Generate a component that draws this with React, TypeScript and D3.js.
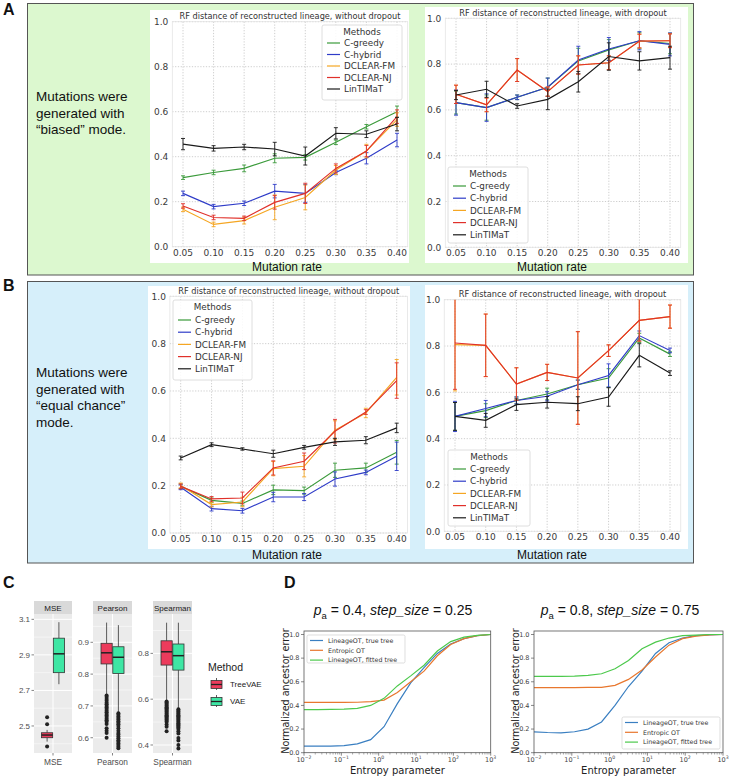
import React from "react"
import * as d3 from "d3"

// ---------- panels A / B : RF distance ----------
const rates = [0.05, 0.1, 0.15, 0.2, 0.25, 0.3, 0.35, 0.4]
const rateLabels = ["0.05", "0.10", "0.15", "0.20", "0.25", "0.30", "0.35", "0.40"]
const rfTicks = [0, 0.2, 0.4, 0.6, 0.8, 1.0]
const methods = ["C-greedy", "C-hybrid", "DCLEAR-FM", "DCLEAR-NJ", "LinTIMaT"]
const methodColors = ["#3a9a3a", "#2f3cc8", "#f5a623", "#e0302a", "#1a1a1a"]

// order of rows follows `methods`
const biasedNoDropMean = [
  [0.307, 0.33, 0.348, 0.393, 0.397, 0.464, 0.533, 0.6],
  [0.237, 0.178, 0.193, 0.247, 0.237, 0.33, 0.393, 0.474],
  [0.166, 0.099, 0.116, 0.175, 0.219, 0.341, 0.425, 0.565],
  [0.181, 0.13, 0.126, 0.197, 0.237, 0.348, 0.425, 0.578],
  [0.456, 0.437, 0.443, 0.434, 0.403, 0.504, 0.5, 0.545],
]
const biasedNoDropErr = [
  [0.008, 0.01, 0.015, 0.02, 0.012, 0.01, 0.01, 0.025],
  [0.01, 0.01, 0.01, 0.03, 0.04, 0.01, 0.025, 0.03],
  [0.01, 0.01, 0.015, 0.055, 0.055, 0.02, 0.03, 0.03],
  [0.01, 0.01, 0.01, 0.03, 0.045, 0.02, 0.025, 0.03],
  [0.025, 0.012, 0.012, 0.03, 0.04, 0.025, 0.015, 0.03],
]
const biasedDropMean = [
  [0.632, 0.61, 0.655, 0.699, 0.814, 0.862, 0.902, 0.89],
  [0.632, 0.61, 0.655, 0.699, 0.818, 0.866, 0.902, 0.886],
  [0.668, 0.622, 0.774, 0.68, 0.796, 0.806, 0.9, 0.902],
  [0.668, 0.622, 0.774, 0.68, 0.796, 0.806, 0.901, 0.902],
  [0.665, 0.69, 0.617, 0.646, 0.723, 0.833, 0.814, 0.828],
]
const biasedDropErr = [
  [0.05, 0.055, 0.01, 0.04, 0.055, 0.045, 0.035, 0.045],
  [0.055, 0.06, 0.01, 0.04, 0.06, 0.05, 0.04, 0.05],
  [0.04, 0.03, 0.05, 0.02, 0.04, 0.03, 0.03, 0.03],
  [0.04, 0.03, 0.05, 0.02, 0.04, 0.03, 0.03, 0.03],
  [0.02, 0.035, 0.01, 0.045, 0.045, 0.06, 0.04, 0.05],
]
const equalNoDropMean = [
  [0.197, 0.138, 0.125, 0.182, 0.179, 0.265, 0.275, 0.341],
  [0.193, 0.103, 0.094, 0.152, 0.152, 0.228, 0.256, 0.324],
  [0.201, 0.12, 0.131, 0.272, 0.282, 0.434, 0.507, 0.658],
  [0.197, 0.144, 0.148, 0.275, 0.303, 0.43, 0.511, 0.644],
  [0.317, 0.373, 0.355, 0.335, 0.362, 0.385, 0.392, 0.444],
]
const equalNoDropErr = [
  [0.01, 0.01, 0.01, 0.02, 0.015, 0.03, 0.02, 0.05],
  [0.01, 0.01, 0.01, 0.02, 0.015, 0.03, 0.01, 0.06],
  [0.01, 0.01, 0.02, 0.03, 0.045, 0.04, 0.02, 0.075],
  [0.01, 0.01, 0.025, 0.03, 0.035, 0.05, 0.01, 0.075],
  [0.008, 0.008, 0.005, 0.015, 0.008, 0.015, 0.015, 0.02],
]
const equalDropMean = [
  [0.496, 0.521, 0.565, 0.593, 0.633, 0.662, 0.835, 0.765],
  [0.496, 0.53, 0.565, 0.583, 0.633, 0.673, 0.845, 0.781],
  [0.806, 0.803, 0.636, 0.686, 0.662, 0.78, 0.911, 0.927],
  [0.813, 0.803, 0.636, 0.686, 0.662, 0.78, 0.911, 0.927],
  [0.496, 0.479, 0.547, 0.557, 0.551, 0.58, 0.76, 0.683],
]
const equalDropErr = [
  [0.06, 0.03, 0.015, 0.025, 0.02, 0.04, 0.02, 0.01],
  [0.065, 0.035, 0.015, 0.02, 0.02, 0.05, 0.02, 0.01],
  [0.2, 0.135, 0.07, 0.035, 0.2, 0.025, 0.09, 0.05],
  [0.2, 0.135, 0.07, 0.035, 0.2, 0.025, 0.09, 0.05],
  [0.06, 0.03, 0.025, 0.025, 0.03, 0.04, 0.05, 0.01],
]

// ---------- panel C : boxplots ----------
const cMetrics = ["MSE", "Pearson", "Spearman"]
const cMethods = ["TreeVAE", "VAE"]
const cColors = ["#ec3b5c", "#3ee6a4"]
// [lower whisker, q1, median, q3, upper whisker]
const cStatsTreeVAE = [
  [2.412, 2.434, 2.449, 2.462, 2.478],
  [0.737, 0.832, 0.867, 0.897, 0.962],
  [0.596, 0.749, 0.807, 0.855, 0.934],
]
const cStatsVAE = [
  [2.735, 2.8, 2.906, 2.994, 3.084],
  [0.68, 0.802, 0.853, 0.886, 0.954],
  [0.56, 0.727, 0.79, 0.841, 0.934],
]
const cOutTreeVAE = [
  [2.549, 2.51, 2.384],
  [0.733, 0.728, 0.722, 0.716, 0.71, 0.705, 0.7, 0.695, 0.69, 0.685, 0.68, 0.675, 0.67, 0.665, 0.66, 0.655, 0.65, 0.643, 0.63, 0.622, 0.615, 0.6],
  [0.59, 0.585, 0.58, 0.575, 0.57, 0.565, 0.56, 0.555, 0.55, 0.545, 0.54, 0.535, 0.53, 0.525, 0.52, 0.515, 0.51, 0.505, 0.5, 0.49, 0.48, 0.46],
]
const cOutVAE = [
  [],
  [0.677, 0.672, 0.667, 0.662, 0.657, 0.652, 0.647, 0.642, 0.637, 0.63, 0.622, 0.615, 0.61, 0.604, 0.598, 0.592, 0.587, 0.582, 0.577, 0.572, 0.567],
  [0.556, 0.55, 0.545, 0.54, 0.535, 0.53, 0.525, 0.52, 0.515, 0.51, 0.505, 0.5, 0.495, 0.49, 0.485, 0.48, 0.475, 0.47, 0.46, 0.45, 0.43, 0.42, 0.4, 0.385],
]
const cTicks = [
  [2.5, 2.7, 2.9, 3.1],
  [0.6, 0.7, 0.8, 0.9],
  [0.4, 0.6, 0.8],
]

// ---------- panel D : ancestor error ----------
const entropyParams = [0.01, 0.0228, 0.0518, 0.118, 0.268, 0.611, 1.39, 3.16, 7.2, 16.4, 37.3, 84.8, 193, 439, 1000]
const dLabels = ["LineageOT, true tree", "Entropic OT", "LineageOT, fitted tree"]
const dColors = ["#3a7fc1", "#e8772e", "#4cc94c"]
const dLeftTrue = [0.055, 0.055, 0.056, 0.06, 0.075, 0.11, 0.22, 0.415, 0.59, 0.72, 0.84, 0.92, 0.965, 0.99, 1.0]
const dLeftEntropic = [0.425, 0.425, 0.425, 0.425, 0.427, 0.432, 0.445, 0.51, 0.6, 0.69, 0.82, 0.915, 0.965, 0.99, 1.0]
const dLeftFitted = [0.365, 0.365, 0.366, 0.368, 0.375, 0.4, 0.46, 0.565, 0.65, 0.74, 0.86, 0.94, 0.978, 0.993, 1.0]
const dRightTrue = [0.177, 0.171, 0.168, 0.177, 0.2, 0.26, 0.4, 0.56, 0.69, 0.84, 0.93, 0.97, 0.99, 0.997, 1.0]
const dRightEntropic = [0.55, 0.55, 0.55, 0.55, 0.552, 0.552, 0.57, 0.62, 0.7, 0.81, 0.91, 0.965, 0.987, 0.996, 1.0]
const dRightFitted = [0.645, 0.645, 0.646, 0.648, 0.655, 0.668, 0.71, 0.78, 0.88, 0.935, 0.97, 0.99, 0.995, 1.0, 1.0]
const dYTicks = [0, 0.2, 0.4, 0.6, 0.8, 1.0]
const dXTicks = [-2, -1, 0, 1, 2, 3]

function RFChart({ id, bg, px, py, title, means, errs, legend }: any) {
  const x = d3.scaleLinear().domain([0.05, 0.4]).range(px)
  const y = d3.scaleLinear().domain([0, 1]).range(py)
  const fx0 = x(0.0325), fx1 = x(0.4175)
  const fy0 = y(1), fy1 = y(0)
  const line = d3.line<number>().x((_, i) => x(rates[i])).y((d) => y(d))

  return (
    <g fontFamily="DejaVu Sans">
      <rect x={bg[0]} y={bg[1]} width={bg[2] - bg[0]} height={bg[3] - bg[1]} fill="#fff" />
      {rfTicks.map((t) => (
        <line key={"gy" + t} x1={fx0} x2={fx1} y1={y(t)} y2={y(t)} stroke="#c0c0c0" strokeWidth={0.8} strokeDasharray="1.2,1.6" />
      ))}
      {rates.map((r) => (
        <line key={"gx" + r} x1={x(r)} x2={x(r)} y1={fy0} y2={fy1} stroke="#c0c0c0" strokeWidth={0.8} strokeDasharray="1.2,1.6" />
      ))}
      <rect x={fx0} y={fy0} width={fx1 - fx0} height={fy1 - fy0} fill="none" stroke="#e4e4e4" strokeWidth={0.8} />
      {rfTicks.map((t) => (
        <text key={"ty" + t} x={fx0 - 4} y={y(t) + 3.3} textAnchor="end" fontSize={9} fill="#3a3a3a">
          {t.toFixed(1)}
        </text>
      ))}
      {rateLabels.map((s, i) => (
        <text key={"tx" + s} x={x(rates[i])} y={fy1 + 8.8} textAnchor="middle" fontSize={9} fill="#3a3a3a">
          {s}
        </text>
      ))}
      <text x={(fx0 + fx1) / 2} y={fy0 - 2.6} textAnchor="middle" fontSize={8.2} fill="#333">
        {title}
      </text>
      <clipPath id={id}>
        <rect x={fx0} y={fy0} width={fx1 - fx0} height={fy1 - fy0} />
      </clipPath>
      <g clipPath={`url(#${id})`}>
        {means.map((m: number[], k: number) => (
          <g key={k} stroke={methodColors[k]} strokeWidth={0.9}>
            <path d={line(m) as string} fill="none" strokeWidth={1.15} />
            {m.map((v, i) => {
              const e = errs[k][i]
              const cx = x(rates[i])
              return (
                <g key={i}>
                  <line x1={cx} x2={cx} y1={y(v - e)} y2={y(v + e)} />
                  <line x1={cx - 2} x2={cx + 2} y1={y(v - e)} y2={y(v - e)} />
                  <line x1={cx - 2} x2={cx + 2} y1={y(v + e)} y2={y(v + e)} />
                </g>
              )
            })}
          </g>
        ))}
      </g>
      <g>
        <rect x={legend.x} y={legend.y} width={legend.w} height={legend.h} rx={2} fill="#fff" fillOpacity={0.85} stroke="#d6d6d6" strokeWidth={0.8} />
        <text x={legend.x + legend.w / 2} y={legend.y + 10} textAnchor="middle" fontSize={8.8} fill="#333">
          Methods
        </text>
        {methods.map((m, k) => {
          const cy = legend.y + legend.r0 + k * legend.step
          return (
            <g key={m}>
              <line x1={legend.x + 5} x2={legend.x + 18} y1={cy} y2={cy} stroke={methodColors[k]} strokeWidth={1.2} />
              <text x={legend.x + 22} y={cy + 3.2} fontSize={8.8} fill="#333">
                {m}
              </text>
            </g>
          )
        })}
      </g>
    </g>
  )
}

function BoxPanelC() {
  const panelX = [[34, 72], [93, 132], [153, 192]]
  const yDomains = [[2.348, 3.13], [0.552, 0.989], [0.365, 0.972]]
  const top = 614, bottom = 753
  return (
    <g fontFamily="Liberation Sans, Arial, sans-serif">
      {cMetrics.map((metric, p) => {
        const [x0, x1] = panelX[p]
        const cx = (x0 + x1) / 2
        const y = d3.scaleLinear().domain(yDomains[p]).range([bottom, top])
        const band = d3.scaleBand().domain(cMethods).range([cx - 11.5, cx + 11.5]).paddingInner(0.05)
        const ticks = cTicks[p]
        const step = ticks[1] - ticks[0]
        const minor = [ticks[0] - step / 2, ...ticks.map((t) => t + step / 2)].filter(
          (v) => v > yDomains[p][0] && v < yDomains[p][1],
        )
        const stats = [cStatsTreeVAE[p], cStatsVAE[p]]
        const outs = [cOutTreeVAE[p], cOutVAE[p]]
        return (
          <g key={metric}>
            <rect x={x0} y={601} width={x1 - x0} height={13} fill="#d9d9d9" />
            <text x={cx} y={610.8} textAnchor="middle" fontSize={8} fill="#1a1a1a">
              {metric}
            </text>
            <rect x={x0} y={top} width={x1 - x0} height={bottom - top} fill="#ebebeb" />
            {minor.map((v) => (
              <line key={"m" + v} x1={x0} x2={x1} y1={y(v)} y2={y(v)} stroke="#fff" strokeWidth={0.5} />
            ))}
            {ticks.map((v) => (
              <line key={"g" + v} x1={x0} x2={x1} y1={y(v)} y2={y(v)} stroke="#fff" strokeWidth={1} />
            ))}
            <line x1={cx} x2={cx} y1={top} y2={bottom} stroke="#fff" strokeWidth={1} />
            {ticks.map((v) => (
              <g key={"t" + v}>
                <line x1={x0 - 2.5} x2={x0} y1={y(v)} y2={y(v)} stroke="#333" strokeWidth={0.6} />
                <text x={x0 - 4} y={y(v) + 2.8} textAnchor="end" fontSize={8} fill="#4d4d4d">
                  {v.toFixed(1)}
                </text>
              </g>
            ))}
            <line x1={cx} x2={cx} y1={bottom} y2={bottom + 2.5} stroke="#333" strokeWidth={0.6} />
            <text x={cx} y={765} textAnchor="middle" fontSize={8.3} fill="#4d4d4d">
              {metric}
            </text>
            {cMethods.map((m, k) => {
              const s = stats[k]
              const bx = band(m) as number
              const bw = band.bandwidth()
              const mx = bx + bw / 2
              return (
                <g key={m} stroke="#333" strokeWidth={0.8}>
                  <line x1={mx} x2={mx} y1={y(s[0])} y2={y(s[1])} />
                  <line x1={mx} x2={mx} y1={y(s[3])} y2={y(s[4])} />
                  <rect x={bx} y={y(s[3])} width={bw} height={y(s[1]) - y(s[3])} fill={cColors[k]} />
                  <line x1={bx} x2={bx + bw} y1={y(s[2])} y2={y(s[2])} strokeWidth={1.5} stroke="#222" />
                  {outs[k].map((o, j) => (
                    <circle key={j} cx={mx} cy={y(o)} r={2} fill="#222" stroke="none" />
                  ))}
                </g>
              )
            })}
          </g>
        )
      })}
      <text x={208} y={671} fontSize={10.5} fill="#222">
        Method
      </text>
      {cMethods.map((m, k) => {
        const ky = 679 + k * 17
        return (
          <g key={m}>
            <line x1={216.5} x2={216.5} y1={ky - 1} y2={ky + 11} stroke="#333" strokeWidth={0.8} />
            <rect x={211} y={ky + 1.5} width={11} height={8} fill={cColors[k]} stroke="#333" strokeWidth={0.8} />
            <line x1={211} x2={222} y1={ky + 5.5} y2={ky + 5.5} stroke="#222" strokeWidth={1.3} />
            <text x={230} y={ky + 8} fontSize={8} fill="#222">
              {m}
            </text>
          </g>
        )
      })}
    </g>
  )
}

function EntropyChart({ id, frame, py, pa, step, titleX, series, legend, ylabX }: any) {
  const x = d3.scaleLog().domain([0.01, 1000]).range([frame.x0, frame.x1])
  const y = d3.scaleLinear().domain([0, 1]).range(py)
  const line = d3.line<number>().x((_, i) => x(entropyParams[i])).y((d) => y(d))
  const minor: number[] = []
  for (let e = -2; e < 3; e++) for (let k = 2; k < 10; k++) minor.push(k * Math.pow(10, e))
  const axisColor = "#555"
  return (
    <g fontFamily="DejaVu Sans">
      <text x={titleX} y={615} textAnchor="middle" fontSize={14} fontFamily="Liberation Sans, Arial, sans-serif" fill="#111">
        <tspan fontStyle="italic">p</tspan>
        <tspan fontSize={9.5} dy={4}>a</tspan>
        <tspan dy={-4}>{` = ${pa}, `}</tspan>
        <tspan fontStyle="italic">step_size</tspan>
        <tspan>{` = ${step}`}</tspan>
      </text>
      <clipPath id={id}>
        <rect x={frame.x0} y={frame.y0} width={frame.x1 - frame.x0} height={frame.y1 - frame.y0} />
      </clipPath>
      <g clipPath={`url(#${id})`}>
        {series.map((s: number[], k: number) => (
          <path key={k} d={line(s) as string} fill="none" stroke={dColors[k]} strokeWidth={1.2} />
        ))}
      </g>
      <rect x={frame.x0} y={frame.y0} width={frame.x1 - frame.x0} height={frame.y1 - frame.y0} fill="none" stroke={axisColor} strokeWidth={0.8} />
      {dYTicks.map((t) => (
        <g key={"y" + t}>
          <line x1={frame.x0 - 3} x2={frame.x0} y1={y(t)} y2={y(t)} stroke={axisColor} strokeWidth={0.7} />
          <text x={frame.x0 - 4.5} y={y(t) + 2.3} textAnchor="end" fontSize={6.5} fill="#444">
            {t.toFixed(1)}
          </text>
        </g>
      ))}
      {minor.map((v) => (
        <line key={"mx" + v} x1={x(v)} x2={x(v)} y1={frame.y1} y2={frame.y1 + 1.8} stroke={axisColor} strokeWidth={0.5} />
      ))}
      {dXTicks.map((e) => (
        <g key={"x" + e}>
          <line x1={x(Math.pow(10, e))} x2={x(Math.pow(10, e))} y1={frame.y1} y2={frame.y1 + 3} stroke={axisColor} strokeWidth={0.7} />
          <text x={x(Math.pow(10, e))} y={frame.y1 + 9.5} textAnchor="middle" fontSize={6.5} fill="#444">
            10
            <tspan fontSize={4.6} dy={-3}>
              {e < 0 ? "\u2212" + -e : String(e)}
            </tspan>
          </text>
        </g>
      ))}
      <text x={(frame.x0 + frame.x1) / 2} y={774} textAnchor="middle" fontSize={10} fill="#222">
        Entropy parameter
      </text>
      <text transform={`translate(${ylabX},691) rotate(-90)`} textAnchor="middle" fontSize={9.6} fill="#222">
        Normalized ancestor error
      </text>
      <g>
        <rect x={legend.x} y={legend.y} width={legend.w} height={legend.h} rx={1.5} fill="#fff" fillOpacity={0.85} stroke="#d0d0d0" strokeWidth={0.7} />
        {dLabels.map((l, k) => {
          const cy = legend.y + 5.5 + k * 9.8
          return (
            <g key={l}>
              <line x1={legend.x + 3} x2={legend.x + 16} y1={cy} y2={cy} stroke={dColors[k]} strokeWidth={1.2} />
              <text x={legend.x + 21} y={cy + 2.3} fontSize={6.3} fill="#333">
                {l}
              </text>
            </g>
          )
        })}
      </g>
    </g>
  )
}

export default function App() {
  return (
    <svg
      width={730}
      height={776}
      style={{ position: "absolute", left: 0, top: 0, background: "#fff" }}
      fontFamily="Liberation Sans, Arial, sans-serif"
    >
      {/* A */}
      <text x={3} y={15} fontSize={16} fontWeight="bold" fill="#111">A</text>
      <rect x={27.5} y={3.5} width={666} height={271.5} fill="#dcf8cf" stroke="#555" strokeWidth={1} />
      <g fontSize={13.5} fill="#111">
        <text x={36} y={101}>Mutations were</text>
        <text x={36} y={117.5}>generated with</text>
        <text x={36} y={134}>“biased” mode.</text>
      </g>
      <RFChart
        id="cA1"
        bg={[150, 10, 409, 263]}
        px={[183, 397]}
        py={[246.7, 21.7]}
        title="RF distance of reconstructed lineage, without dropout"
        means={biasedNoDropMean}
        errs={biasedNoDropErr}
        legend={{ x: 322, y: 25, w: 80, h: 75, r0: 18, step: 11.5 }}
      />
      <RFChart
        id="cA2"
        bg={[425, 7, 688, 263]}
        px={[456, 670]}
        py={[247.3, 18.3]}
        title="RF distance of reconstructed lineage, with dropout"
        means={biasedDropMean}
        errs={biasedDropErr}
        legend={{ x: 448, y: 167, w: 80, h: 76, r0: 19, step: 12.2 }}
      />
      <text x={287} y={271} textAnchor="middle" fontSize={12} fill="#111">Mutation rate</text>
      <text x={552} y={271} textAnchor="middle" fontSize={12} fill="#111">Mutation rate</text>

      {/* B */}
      <text x={3} y={291} fontSize={16} fontWeight="bold" fill="#111">B</text>
      <rect x={27.5} y={281.5} width={666} height={281.5} fill="#d6effa" stroke="#555" strokeWidth={1} />
      <g fontSize={13.5} fill="#111">
        <text x={36} y={377}>Mutations were</text>
        <text x={36} y={393.5}>generated with</text>
        <text x={36} y={410}>“equal chance”</text>
        <text x={36} y={427}>mode.</text>
      </g>
      <RFChart
        id="cB1"
        bg={[148, 286, 410, 549]}
        px={[180.7, 396.7]}
        py={[533, 296.3]}
        title="RF distance of reconstructed lineage, without dropout"
        means={equalNoDropMean}
        errs={equalNoDropErr}
        legend={{ x: 173, y: 300, w: 79, h: 80, r0: 20, step: 12.2 }}
      />
      <RFChart
        id="cB2"
        bg={[425, 285, 688, 549]}
        px={[455, 670]}
        py={[531.3, 299.7]}
        title="RF distance of reconstructed lineage, with dropout"
        means={equalDropMean}
        errs={equalDropErr}
        legend={{ x: 448, y: 450, w: 82, h: 76, r0: 19, step: 12.2 }}
      />
      <text x={287} y={559} textAnchor="middle" fontSize={12} fill="#111">Mutation rate</text>
      <text x={552} y={559} textAnchor="middle" fontSize={12} fill="#111">Mutation rate</text>

      {/* C */}
      <text x={3} y={588} fontSize={16} fontWeight="bold" fill="#111">C</text>
      <BoxPanelC />

      {/* D */}
      <text x={284} y={588} fontSize={16} fontWeight="bold" fill="#111">D</text>
      <EntropyChart
        id="cD1"
        frame={{ x0: 304, x1: 490.7, y0: 631, y1: 752.7 }}
        py={[752.7, 634.5]}
        pa="0.4"
        step="0.25"
        titleX={393}
        series={[dLeftTrue, dLeftEntropic, dLeftFitted]}
        legend={{ x: 307, y: 635, w: 98, h: 28 }}
        ylabX={288.5}
      />
      <EntropyChart
        id="cD2"
        frame={{ x0: 534, x1: 723, y0: 631, y1: 752.7 }}
        py={[752.7, 634.5]}
        pa="0.8"
        step="0.75"
        titleX={620}
        series={[dRightTrue, dRightEntropic, dRightFitted]}
        legend={{ x: 622, y: 717, w: 98, h: 32 }}
        ylabX={519}
      />
    </svg>
  )
}
